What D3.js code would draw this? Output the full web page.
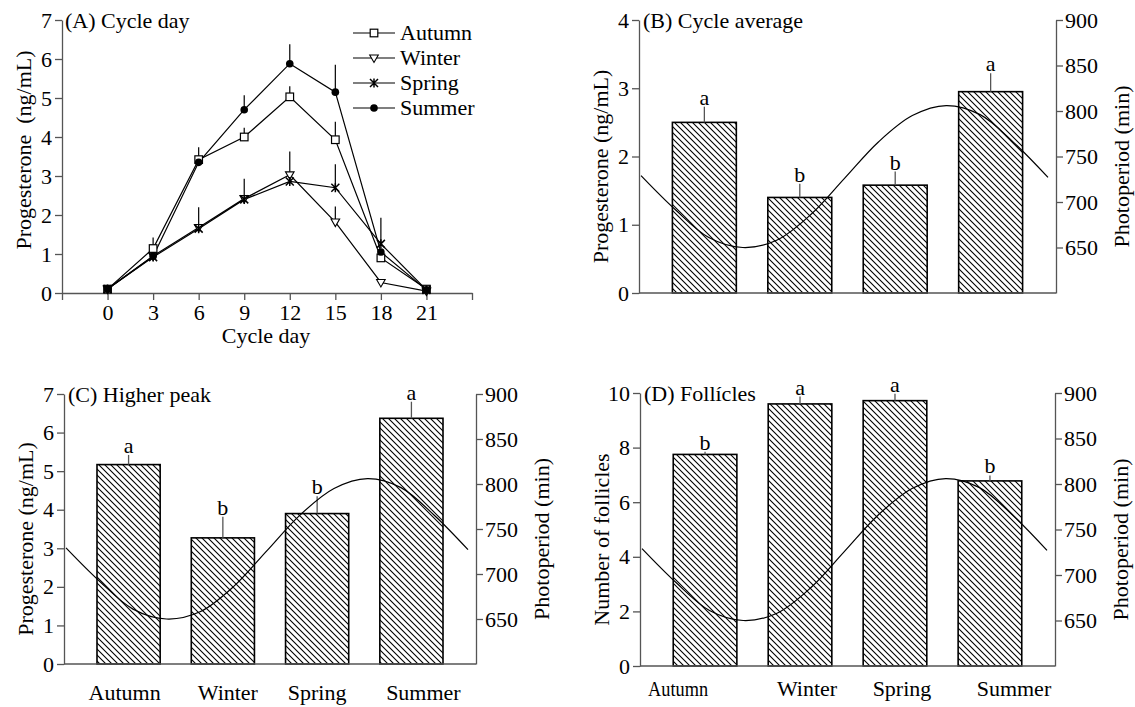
<!DOCTYPE html>
<html>
<head>
<meta charset="utf-8">
<script src="https://cdn.jsdelivr.net/npm/d3@7"></script>
<style>
  body { margin: 0; background: #fff; }
  text { font-family: "Liberation Serif", "Times New Roman", serif; fill: #000; }
</style>
</head>
<body>
<div id="root"></div>
<script>
// Panel A data: progesterone by cycle day
const days = [0, 3, 6, 9, 12, 15, 18, 21];
const dayTicks = [-3, 0, 3, 6, 9, 12, 15, 18, 21, 24];
const autumn = [0.1, 1.14, 3.42, 4.0, 5.03, 3.93, 0.9, 0.1];
const autumnErr = [0, 0.28, 0.32, 0.24, 0.27, 0.46, 0, 0];
const winter = [0.1, 0.95, 1.68, 2.42, 3.03, 1.82, 0.27, 0.05];
const winterErr = [0, 0, 0, 0, 0, 0.4, 0, 0];
const spring = [0.1, 0.92, 1.65, 2.4, 2.86, 2.7, 1.26, 0.08];
const springErr = [0, 0, 0.55, 0.53, 0.77, 0.6, 0.67, 0];
const summer = [0.1, 0.94, 3.35, 4.7, 5.88, 5.15, 1.05, 0.08];
const summerErr = [0, 0, 0, 0.37, 0.5, 0.7, 0, 0];
const progTicksA = [0, 1, 2, 3, 4, 5, 6, 7];

// Seasons for bar panels
const seasons = ["Autumn", "Winter", "Spring", "Summer"];

// Panel B: cycle average
const cycleAvg = [2.5, 1.4, 1.58, 2.95];
const cycleAvgErr = [0.23, 0.2, 0.2, 0.27];
const cycleAvgLetters = ["a", "b", "b", "a"];
const progTicksB = [0, 1, 2, 3, 4];

// Panel C: higher peak
const higherPeak = [5.17, 3.27, 3.9, 6.37];
const higherPeakErr = [0.25, 0.55, 0.45, 0.43];
const higherPeakLetters = ["a", "b", "b", "a"];
const progTicksC = [0, 1, 2, 3, 4, 5, 6, 7];

// Panel D: follicles
const follicles = [7.75, 9.6, 9.72, 6.78];
const folliclesErr = [0.1, 0.27, 0.25, 0.2];
const folliclesLetters = ["b", "a", "a", "b"];
const follTicks = [0, 2, 4, 6, 8, 10];

// Photoperiod curve (read monthly across the plot width)
const photoMonths = [0, 1, 2, 3, 4, 5, 6, 7, 8, 9, 10, 11, 12];
const photoperiod = [729, 692, 661, 650, 658, 686, 726, 766, 795, 806, 796, 765, 727];
const photoTicks = [650, 700, 750, 800, 850, 900];

const width = 1135;
const height = 707;
const fontSize = 22;
const axisColor = "#555";
const intFormat = d3.format("d");

const svg = d3
  .select("#root")
  .append("svg")
  .attr("width", width)
  .attr("height", height);

svg.append("rect").attr("width", width).attr("height", height).attr("fill", "#fff");

// hatch pattern for the bars
const defs = svg.append("defs");
defs
  .append("pattern")
  .attr("id", "hatch")
  .attr("patternUnits", "userSpaceOnUse")
  .attr("width", 6)
  .attr("height", 6)
  .append("path")
  .attr("d", "M0,0 L6,6 M-1,5 L1,7 M5,-1 L7,1")
  .attr("stroke", "#000")
  .attr("stroke-width", 1.1);

function styleAxis(g) {
  g.selectAll("path, line").attr("stroke", axisColor).attr("stroke-width", 1.3);
  g.selectAll("text")
    .attr("font-size", fontSize)
    .attr("font-family", "Liberation Serif, Times New Roman, serif")
    .attr("fill", "#000");
}

function verticalTitle(x, y, label) {
  svg
    .append("text")
    .attr("transform", "translate(" + x + "," + y + ") rotate(-90)")
    .attr("text-anchor", "middle")
    .attr("dy", "0.35em")
    .attr("font-size", fontSize)
    .style("white-space", "pre")
    .text(label);
}

// ---------------- Panel A ----------------
(function panelA() {
  const left = 62, right = 472, top = 20, bottom = 293;

  const x = d3.scaleLinear().domain([-3, 24]).range([left, right]);
  const y = d3.scaleLinear().domain([0, 7]).range([bottom, top]);

  svg
    .append("g")
    .attr("transform", "translate(0," + bottom + ")")
    .call(
      d3.axisBottom(x)
        .tickValues(dayTicks)
        .tickSize(7)
        .tickSizeOuter(0)
        .tickPadding(4)
        .tickFormat(d => (d < 0 || d > 21 ? "" : d))
    )
    .call(styleAxis);

  svg
    .append("g")
    .attr("transform", "translate(" + left + ",0)")
    .call(d3.axisLeft(y).tickValues(progTicksA).tickFormat(intFormat).tickSize(7).tickSizeOuter(0).tickPadding(3))
    .call(styleAxis);

  svg
    .append("text")
    .attr("x", left + 3)
    .attr("y", 28)
    .attr("font-size", fontSize)
    .text("(A) Cycle day");

  svg
    .append("text")
    .attr("x", 266)
    .attr("y", 343)
    .attr("text-anchor", "middle")
    .attr("font-size", fontSize)
    .text("Cycle day");

  verticalTitle(23, 150, "Progesterone  (ng/mL)");

  const series = [
    { name: "Autumn", mean: autumn, err: autumnErr, marker: "square" },
    { name: "Winter", mean: winter, err: winterErr, marker: "triangle" },
    { name: "Spring", mean: spring, err: springErr, marker: "star" },
    { name: "Summer", mean: summer, err: summerErr, marker: "circle" }
  ];

  const line = d3
    .line()
    .x(d => x(d.day))
    .y(d => y(d.v));

  function drawMarker(g, type, cx, cy) {
    if (type === "square") {
      g.append("rect")
        .attr("x", cx - 3.8).attr("y", cy - 3.8)
        .attr("width", 7.6).attr("height", 7.6)
        .attr("fill", "#fff").attr("stroke", "#000").attr("stroke-width", 1.2);
    } else if (type === "triangle") {
      g.append("path")
        .attr("d", "M" + (cx - 4.3) + "," + (cy - 3) + " L" + (cx + 4.3) + "," + (cy - 3) + " L" + cx + "," + (cy + 4.5) + " Z")
        .attr("fill", "#fff").attr("stroke", "#000").attr("stroke-width", 1.1);
    } else if (type === "star") {
      g.append("path")
        .attr("d",
          "M" + (cx - 4) + "," + (cy - 4) + " L" + (cx + 4) + "," + (cy + 4) +
          " M" + (cx + 4) + "," + (cy - 4) + " L" + (cx - 4) + "," + (cy + 4) +
          " M" + cx + "," + (cy - 4.5) + " L" + cx + "," + (cy + 4.5))
        .attr("fill", "none").attr("stroke", "#000").attr("stroke-width", 1.5);
    } else {
      g.append("circle")
        .attr("cx", cx).attr("cy", cy).attr("r", 3.8)
        .attr("fill", "#000");
    }
  }

  // error bars (upper only)
  series.forEach(s => {
    svg
      .append("g")
      .selectAll("line")
      .data(days.map((d, i) => ({ day: d, v: s.mean[i], e: s.err[i] })).filter(d => d.e > 0))
      .enter()
      .append("line")
      .attr("x1", d => x(d.day))
      .attr("x2", d => x(d.day))
      .attr("y1", d => y(d.v))
      .attr("y2", d => y(d.v + d.e))
      .attr("stroke", "#000")
      .attr("stroke-width", 1.2);
  });

  series.forEach(s => {
    const pts = days.map((d, i) => ({ day: d, v: s.mean[i] }));
    svg
      .append("path")
      .datum(pts)
      .attr("fill", "none")
      .attr("stroke", "#000")
      .attr("stroke-width", 1.2)
      .attr("d", line);
  });

  series.forEach(s => {
    const g = svg.append("g");
    days.forEach((d, i) => drawMarker(g, s.marker, x(d), y(s.mean[i])));
  });

  // legend
  const legend = svg.append("g");
  series.forEach((s, i) => {
    const ly = 33 + i * 25;
    legend
      .append("line")
      .attr("x1", 353).attr("x2", 395)
      .attr("y1", ly).attr("y2", ly)
      .attr("stroke", "#000").attr("stroke-width", 1.2);
    drawMarker(legend, s.marker, 374, ly);
    legend
      .append("text")
      .attr("x", 400)
      .attr("y", ly)
      .attr("dy", "0.33em")
      .attr("font-size", fontSize)
      .text(s.name);
  });
})();

// ---------------- Bar panels ----------------
function barPanel(p) {
  const x = d3
    .scaleBand()
    .domain(seasons)
    .range([p.left, p.right])
    .paddingInner(0.33)
    .paddingOuter(0.35);

  const y = d3.scaleLinear().domain(p.yDomain).range([p.bottom, p.top]);
  const yPhoto = d3.scaleLinear().domain([600, 900]).range([p.bottom, p.top]);

  // bars
  svg
    .append("g")
    .selectAll("rect")
    .data(seasons)
    .enter()
    .append("rect")
    .attr("x", d => x(d))
    .attr("y", (d, i) => y(p.values[i]))
    .attr("width", x.bandwidth())
    .attr("height", (d, i) => p.bottom - y(p.values[i]))
    .attr("fill", "url(#hatch)")
    .attr("stroke", "#000")
    .attr("stroke-width", 1.6);

  // error bars
  svg
    .append("g")
    .selectAll("line")
    .data(seasons)
    .enter()
    .append("line")
    .attr("x1", d => x(d) + x.bandwidth() / 2)
    .attr("x2", d => x(d) + x.bandwidth() / 2)
    .attr("y1", (d, i) => y(p.values[i]))
    .attr("y2", (d, i) => y(p.values[i] + p.errs[i]))
    .attr("stroke", axisColor)
    .attr("stroke-width", 1.3);

  // significance letters
  svg
    .append("g")
    .selectAll("text")
    .data(seasons)
    .enter()
    .append("text")
    .attr("x", d => x(d) + x.bandwidth() / 2)
    .attr("y", (d, i) => y(p.values[i] + p.errs[i]) - 2)
    .attr("text-anchor", "middle")
    .attr("font-size", fontSize)
    .text((d, i) => p.letters[i]);

  // photoperiod curve
  const xm = d3.scaleLinear().domain([0, 12]).range([p.left + 2, p.right - 8]);
  svg
    .append("path")
    .datum(photoMonths.map((m, i) => ({ m: m, v: photoperiod[i] })))
    .attr("fill", "none")
    .attr("stroke", "#000")
    .attr("stroke-width", 1.2)
    .attr("d", d3.line().x(d => xm(d.m)).y(d => yPhoto(d.v)).curve(d3.curveCatmullRom));

  // axes
  svg
    .append("line")
    .attr("x1", p.left).attr("x2", p.right)
    .attr("y1", p.bottom).attr("y2", p.bottom)
    .attr("stroke", axisColor).attr("stroke-width", 1.3);

  svg
    .append("g")
    .attr("transform", "translate(" + p.left + ",0)")
    .call(d3.axisLeft(y).tickValues(p.yTicks).tickFormat(intFormat).tickSize(7).tickSizeOuter(0).tickPadding(3))
    .call(styleAxis);

  svg
    .append("g")
    .attr("transform", "translate(" + p.right + ",0)")
    .call(d3.axisRight(yPhoto).tickValues(photoTicks).tickFormat(intFormat).tickSize(7).tickSizeOuter(0).tickPadding(2))
    .call(styleAxis);

  svg
    .append("text")
    .attr("x", p.left + 4)
    .attr("y", p.top + 8)
    .attr("font-size", fontSize)
    .text(p.title);

  verticalTitle(p.left - 39, (p.top + p.bottom) / 2 + 10, p.yTitle);
  verticalTitle(p.right + 65, (p.top + p.bottom) / 2 + 10, "Photoperiod (min)");

  if (p.labelY) {
    svg
      .append("g")
      .selectAll("text")
      .data(seasons)
      .enter()
      .append("text")
      .attr("x", (d, i) => x(d) + x.bandwidth() / 2 + p.labelShift[i])
      .attr("y", p.labelY)
      .attr("text-anchor", "middle")
      .attr("font-size", fontSize)
      .each(function(d, i) {
        if (p.labelLength && p.labelLength[i]) {
          d3.select(this).attr("textLength", p.labelLength[i]).attr("lengthAdjust", "spacingAndGlyphs");
        }
      })
      .text(d => d);
  }
}

barPanel({
  left: 639, right: 1056, top: 20, bottom: 293,
  yDomain: [0, 4], yTicks: progTicksB,
  values: cycleAvg, errs: cycleAvgErr, letters: cycleAvgLetters,
  title: "(B) Cycle average", yTitle: "Progesterone (ng/mL)"
});

barPanel({
  left: 64, right: 476, top: 394, bottom: 664,
  yDomain: [0, 7], yTicks: progTicksC,
  values: higherPeak, errs: higherPeakErr, letters: higherPeakLetters,
  title: "(C) Higher peak", yTitle: "Progesterone (ng/mL)",
  labelY: 700, labelShift: [-4, 5, 0, 12]
});

barPanel({
  left: 640, right: 1055, top: 393, bottom: 666,
  yDomain: [0, 10], yTicks: follTicks,
  values: follicles, errs: folliclesErr, letters: folliclesLetters,
  title: "(D) Follícles", yTitle: "Number of follicles",
  labelY: 696, labelShift: [-27, 7, 7, 24], labelLength: [60, 0, 0, 0]
});
</script>
</body>
</html>
